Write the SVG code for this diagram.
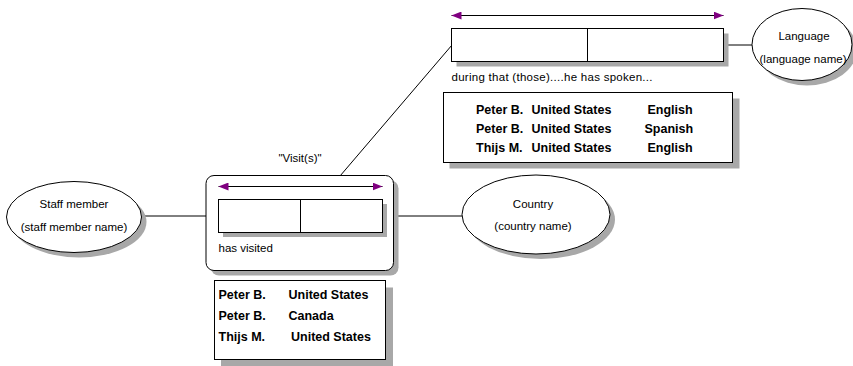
<svg xmlns="http://www.w3.org/2000/svg" width="853" height="366" viewBox="0 0 853 366">
<defs>
<style>
.t{font-family:"Liberation Sans",Arial,sans-serif;font-size:11.5px;fill:#000}
.b{font-family:"Liberation Sans",Arial,sans-serif;font-size:12.5px;font-weight:bold;fill:#000}
.box{fill:#fff;stroke:#000;stroke-width:1}
.ln{stroke:#000;stroke-width:1;fill:none}
.ar{stroke:#000;stroke-width:1;fill:none;marker-start:url(#ms);marker-end:url(#me)}
</style>
<marker id="me" viewBox="0 0 10 8" refX="10" refY="4" markerWidth="10" markerHeight="8" markerUnits="userSpaceOnUse" orient="auto"><path d="M0,0 L10,4 L0,8 Z" fill="#800080"/></marker>
<marker id="ms" viewBox="0 0 10 8" refX="0" refY="4" markerWidth="10" markerHeight="8" markerUnits="userSpaceOnUse" orient="auto"><path d="M10,0 L0,4 L10,8 Z" fill="#800080"/></marker>
</defs>
<rect width="853" height="366" fill="#fff"/>
<g id="connectors">
<line class="ln" x1="141.5" y1="216" x2="218.5" y2="216"/>
<line class="ln" x1="382.5" y1="216" x2="462" y2="216"/>
<line class="ln" x1="340" y1="176" x2="452" y2="45"/>
<line class="ln" x1="723.5" y1="45" x2="752.5" y2="45"/>
</g>
<g id="staff-member">
<ellipse fill="#a8a8a8" cx="79" cy="222" rx="67.5" ry="35.5"/>
<ellipse class="box" cx="74" cy="217" rx="67.5" ry="35.5"/>
<text class="t" x="74" y="207.5" text-anchor="middle">Staff member</text>
<text class="t" x="74" y="230.5" text-anchor="middle">(staff member name)</text>
</g>
<g id="country">
<ellipse fill="#a8a8a8" cx="541" cy="219.5" rx="74" ry="39.5"/>
<ellipse class="box" cx="536" cy="214.5" rx="74" ry="39.5"/>
<text class="t" x="533" y="207.5" text-anchor="middle">Country</text>
<text class="t" x="533" y="230" text-anchor="middle">(country name)</text>
</g>
<g id="language">
<ellipse fill="#a8a8a8" cx="807" cy="49.5" rx="50" ry="36"/>
<ellipse class="box" cx="802" cy="44.5" rx="50" ry="36"/>
<text class="t" x="804" y="40" text-anchor="middle">Language</text>
<text class="t" x="803" y="63" text-anchor="middle">(language name)</text>
</g>
<g id="visit">
<text class="t" x="300" y="162" text-anchor="middle">"Visit(s)"</text>
<rect fill="#a8a8a8" x="211" y="180.5" width="187.5" height="95" rx="8"/>
<rect class="box" x="206" y="175.5" width="187.5" height="95" rx="8"/>
<line class="ar" x1="218.5" y1="186.5" x2="382.5" y2="186.5"/>
<rect fill="#a8a8a8" x="223" y="204" width="164" height="33"/>
<rect class="box" x="218.5" y="199.5" width="164" height="33"/>
<line class="ln" x1="300.5" y1="199.5" x2="300.5" y2="232.5"/>
<text class="t" x="218.5" y="252">has visited</text>
</g>
<g id="visit-population">
<rect fill="#a8a8a8" x="221" y="287.5" width="172" height="79"/>
<rect class="box" x="214.5" y="280.5" width="171" height="79"/>
<text class="b" x="218.5" y="298.5">Peter B.</text>
<text class="b" x="288.5" y="298.5">United States</text>
<text class="b" x="218.5" y="320">Peter B.</text>
<text class="b" x="288.5" y="320">Canada</text>
<text class="b" x="218.5" y="341">Thijs M.</text>
<text class="b" x="291" y="341">United States</text>
</g>
<g id="spoken">
<line class="ar" x1="451.5" y1="15.5" x2="723.5" y2="15.5"/>
<rect fill="#a8a8a8" x="456.5" y="33.5" width="272" height="33"/>
<rect class="box" x="451.5" y="28.5" width="272" height="33"/>
<line class="ln" x1="587.5" y1="28.5" x2="587.5" y2="61.5"/>
<text class="t" x="451.5" y="81" textLength="201" lengthAdjust="spacing">during that (those)....he has spoken...</text>
</g>
<g id="spoken-population">
<rect fill="#a8a8a8" x="449.5" y="98.5" width="290" height="70"/>
<rect class="box" x="443.5" y="92.5" width="289" height="70"/>
<text class="b" x="476" y="113.5">Peter B.</text>
<text class="b" x="531.5" y="113.5">United States</text>
<text class="b" x="647.5" y="113.5">English</text>
<text class="b" x="476" y="133">Peter B.</text>
<text class="b" x="531.5" y="133">United States</text>
<text class="b" x="644.5" y="133">Spanish</text>
<text class="b" x="476" y="151.5">Thijs M.</text>
<text class="b" x="531.5" y="151.5">United States</text>
<text class="b" x="647.5" y="151.5">English</text>
</g>
</svg>
